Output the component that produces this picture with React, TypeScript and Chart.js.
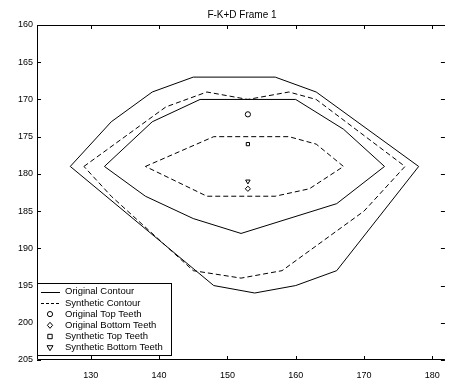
import React, { useEffect, useRef } from "react";
import { Chart, registerables } from "chart.js";

Chart.register(...registerables);

const chartTitle = "F-K+D Frame 1";
const xTickValues = [130, 140, 150, 160, 170, 180];
const yTickValues = [160, 165, 170, 175, 180, 185, 190, 195, 200, 205];

const legendLabels = [
  "Original Contour",
  "Synthetic Contour",
  "Original Top Teeth",
  "Original Bottom Teeth",
  "Synthetic Top Teeth",
  "Synthetic Bottom Teeth",
];

// Original contour (solid)
const origOuterX = [127, 133, 139, 145, 157, 163, 178, 166, 160, 154, 148, 127];
const origOuterY = [179, 173, 169, 167, 167, 169, 179, 193, 195, 196, 195, 179];
const origInnerX = [132, 139, 146, 160, 167, 173, 166, 152, 145, 138, 132];
const origInnerY = [179, 173, 170, 170, 174, 179, 184, 188, 186, 183, 179];

// Synthetic contour (dashed)
const synOuterX = [129, 141, 147, 153, 159, 163, 176, 170, 158, 152, 145, 133, 129];
const synOuterY = [179, 171, 169, 170, 169, 170, 179, 185, 193, 194, 193, 183, 179];
const synInnerX = [138, 148, 159, 163, 167, 162, 157, 147, 138];
const synInnerY = [179, 175, 175, 176, 179, 182, 183, 183, 179];

// Teeth points
const origTopTeethX = [153];
const origTopTeethY = [172];
const origBottomTeethX = [153];
const origBottomTeethY = [182];
const synTopTeethX = [153];
const synTopTeethY = [176];
const synBottomTeethX = [153];
const synBottomTeethY = [181];

const X_MIN = 122.13;
const X_MAX = 181.84;
const Y_MIN = 160;
const Y_MAX = 205;

const FONT = "'Liberation Sans', Arial, Helvetica, sans-serif";
const DASH = [5, 3];

const pts = (xs: number[], ys: number[]) => xs.map((x, i) => ({ x, y: ys[i] }));

const lineDs = (label: string, xs: number[], ys: number[], dash: number[], legend: boolean) => ({
  label,
  data: pts(xs, ys),
  showLine: true,
  borderColor: "#000",
  borderWidth: 1,
  borderDash: dash,
  pointRadius: 0,
  pointHoverRadius: 0,
  fill: false,
  tension: 0,
  legendKind: legend ? (dash.length ? "dash" : "solid") : null,
});

const markerDs = (label: string, xs: number[], ys: number[], style: string, rotation: number, kind: string) => ({
  label,
  data: pts(xs, ys),
  showLine: false,
  pointStyle: style,
  pointRotation: rotation,
  pointRadius: style === "rect" ? 2.3 : 2.6,
  pointBorderColor: "#000",
  pointBackgroundColor: "rgba(0,0,0,0)",
  pointBorderWidth: 1,
  borderColor: "#000",
  legendKind: kind,
});

const drawMarker = (ctx: CanvasRenderingContext2D, kind: string, x: number, y: number) => {
  ctx.beginPath();
  if (kind === "circle") {
    ctx.arc(x, y, 2.6, 0, Math.PI * 2);
  } else if (kind === "diamond") {
    ctx.moveTo(x, y - 3);
    ctx.lineTo(x + 2.6, y);
    ctx.lineTo(x, y + 3);
    ctx.lineTo(x - 2.6, y);
    ctx.closePath();
  } else if (kind === "square") {
    ctx.rect(x - 2.2, y - 2.2, 4.4, 4.4);
  } else if (kind === "tridown") {
    ctx.moveTo(x - 3, y - 2);
    ctx.lineTo(x + 3, y - 2);
    ctx.lineTo(x, y + 3);
    ctx.closePath();
  }
  ctx.stroke();
};

const framePlugin = {
  id: "matlabFrame",
  afterDraw(chart: any) {
    const ctx: CanvasRenderingContext2D = chart.ctx;
    const { left, right, top, bottom } = chart.chartArea;
    const xs = chart.scales.x;
    const ys = chart.scales.y;
    ctx.save();
    ctx.strokeStyle = "#000";
    ctx.lineWidth = 1;
    ctx.setLineDash([]);
    // box
    ctx.beginPath();
    ctx.moveTo(right, top + 0.5);
    ctx.lineTo(left + 0.5, top + 0.5);
    ctx.lineTo(left + 0.5, bottom - 0.5);
    ctx.lineTo(right, bottom - 0.5);
    ctx.stroke();
    // ticks
    ctx.beginPath();
    xTickValues.forEach((v) => {
      const px = Math.round(xs.getPixelForValue(v)) + 0.5;
      ctx.moveTo(px, top);
      ctx.lineTo(px, top + 4);
      ctx.moveTo(px, bottom);
      ctx.lineTo(px, bottom - 4);
    });
    yTickValues.forEach((v) => {
      const py = Math.round(ys.getPixelForValue(v)) + 0.5;
      ctx.moveTo(left, py);
      ctx.lineTo(left + 4, py);
      ctx.moveTo(right, py);
      ctx.lineTo(right - 4, py);
    });
    ctx.stroke();

    // title
    ctx.fillStyle = "#000";
    ctx.font = `10px ${FONT}`;
    ctx.textAlign = "center";
    ctx.textBaseline = "middle";
    ctx.fillText(chartTitle, 242, 15);

    // legend
    const bx = 37.5, by = 283.5, bw = 134, bh = 72;
    ctx.fillStyle = "#fff";
    ctx.fillRect(bx, by, bw, bh);
    ctx.strokeRect(bx, by, bw, bh);
    const entries = chart.data.datasets.filter((d: any) => d.legendKind);
    ctx.font = `9.5px ${FONT}`;
    ctx.textAlign = "left";
    ctx.textBaseline = "middle";
    entries.forEach((d: any, i: number) => {
      const cy = 291.7 + i * 11.2;
      ctx.strokeStyle = "#000";
      ctx.lineWidth = 1;
      if (d.legendKind === "solid" || d.legendKind === "dash") {
        ctx.setLineDash(d.legendKind === "dash" ? [3, 2] : []);
        ctx.beginPath();
        ctx.moveTo(41, Math.round(cy) + 0.5);
        ctx.lineTo(60, Math.round(cy) + 0.5);
        ctx.stroke();
        ctx.setLineDash([]);
      } else {
        drawMarker(ctx, d.legendKind, 50, cy);
      }
      ctx.fillStyle = "#000";
      ctx.fillText(d.label, 65, cy);
    });
    ctx.restore();
  },
};

export default function App() {
  const canvasRef = useRef<HTMLCanvasElement | null>(null);

  useEffect(() => {
    if (!canvasRef.current) return;
    const datasets: any[] = [
      lineDs(legendLabels[0], origOuterX, origOuterY, [], true),
      lineDs(legendLabels[1], synOuterX, synOuterY, DASH, true),
      markerDs(legendLabels[2], origTopTeethX, origTopTeethY, "circle", 0, "circle"),
      markerDs(legendLabels[3], origBottomTeethX, origBottomTeethY, "rectRot", 0, "diamond"),
      markerDs(legendLabels[4], synTopTeethX, synTopTeethY, "rect", 0, "square"),
      markerDs(legendLabels[5], synBottomTeethX, synBottomTeethY, "triangle", 180, "tridown"),
      lineDs("Original Contour (inner)", origInnerX, origInnerY, [], false),
      lineDs("Synthetic Contour (inner)", synInnerX, synInnerY, DASH, false),
    ];
    const chart = new Chart(canvasRef.current, {
      type: "scatter",
      data: { datasets },
      options: {
        responsive: false,
        animation: false,
        devicePixelRatio: 1,
        layout: { padding: { top: 25, left: 0, right: 0, bottom: 0 } },
        plugins: {
          legend: { display: false },
          title: { display: false },
          tooltip: { enabled: false },
        },
        scales: {
          x: {
            type: "linear",
            min: X_MIN,
            max: X_MAX,
            grid: { display: false, drawTicks: false },
            border: { display: false },
            ticks: {
              color: "#000",
              font: { family: FONT, size: 9 },
              padding: 10,
              maxRotation: 0,
              autoSkip: false,
            },
            afterBuildTicks: (s: any) => {
              s.ticks = xTickValues.map((v) => ({ value: v }));
            },
            afterFit: (s: any) => {
              s.height = 21;
            },
          },
          y: {
            type: "linear",
            reverse: true,
            min: Y_MIN,
            max: Y_MAX,
            grid: { display: false, drawTicks: false },
            border: { display: false },
            ticks: {
              color: "#000",
              font: { family: FONT, size: 9 },
              padding: 4,
              autoSkip: false,
            },
            afterBuildTicks: (s: any) => {
              s.ticks = yTickValues.map((v) => ({ value: v }));
            },
            afterFit: (s: any) => {
              s.width = 37;
            },
          },
        },
      } as any,
      plugins: [framePlugin],
    });
    return () => chart.destroy();
  }, []);

  return (
    <div style={{ position: "absolute", left: 0, top: 0, width: 450, height: 381, background: "#fff" }}>
      <canvas ref={canvasRef} width={450} height={381} style={{ display: "block" }} />
    </div>
  );
}
